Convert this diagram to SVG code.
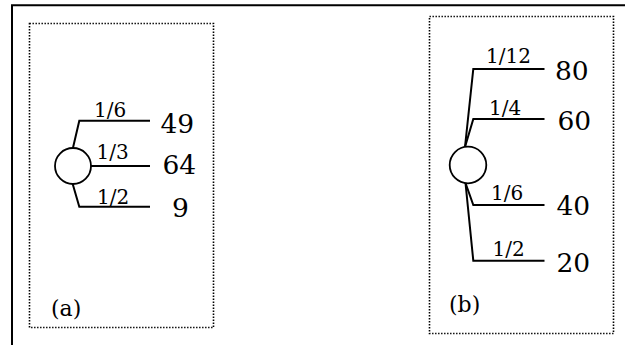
<svg xmlns="http://www.w3.org/2000/svg" width="625" height="345" viewBox="0 0 625 345">
  <style>
    .frame { fill: none; stroke: #000; stroke-width: 2; }
    .panel { fill: none; stroke: #000; stroke-width: 1.6; stroke-dasharray: 1.4 1.6; }
    .node { fill: #fff; stroke: #000; stroke-width: 1.8; }
    .edge { fill: none; stroke: #000; stroke-width: 2; stroke-linejoin: miter; }
    .t { font-family: "DejaVu Serif", "Liberation Serif", serif; fill: #000; }
  </style>

  <!-- outer frame: top and left rules only -->
  <path class="frame" d="M12,345 V5.3 H625"/>

  <!-- panel (a) -->
  <rect class="panel" x="29.5" y="23.5" width="184" height="304"/>
  <!-- panel (b) -->
  <rect class="panel" x="429.5" y="16.5" width="184" height="317"/>

  <g id="connectors">
    <!-- tree (a) -->
    <path class="edge" d="M72.7,149 L79.3,120.7 H150"/>
    <path class="edge" d="M91,166 H150"/>
    <path class="edge" d="M72.7,184 L79.3,206.7 H150"/>
    <!-- tree (b) -->
    <path class="edge" d="M465,147 L473.3,69 H544.5"/>
    <path class="edge" d="M465,147 L473.3,119 H544.5"/>
    <path class="edge" d="M465.5,183 L473.3,205 H544.5"/>
    <path class="edge" d="M465.5,183 L473.3,260.7 H544.5"/>
  </g>

  <g id="chance-a">
    <circle class="node" cx="73" cy="166" r="18"/>
  </g>
  <g id="chance-b">
    <circle class="node" cx="468" cy="165" r="18.3"/>
  </g>

  <g id="labels-a" class="t">
    <text font-size="20" x="94" y="116.5">1/6</text>
    <text font-size="20" x="96.5" y="159">1/3</text>
    <text font-size="20" x="97" y="204">1/2</text>
    <text font-size="26.5" x="160.5" y="132.5">49</text>
    <text font-size="26.5" x="162.5" y="174">64</text>
    <text font-size="26.5" x="172" y="216.5">9</text>
    <text font-size="22" x="51" y="315.5">(a)</text>
  </g>

  <g id="labels-b" class="t">
    <text font-size="20" x="486" y="63">1/12</text>
    <text font-size="20" x="489" y="115">1/4</text>
    <text font-size="20" x="491" y="200">1/6</text>
    <text font-size="20" x="492.5" y="256">1/2</text>
    <text font-size="26.5" x="555" y="80">80</text>
    <text font-size="26.5" x="557.5" y="130">60</text>
    <text font-size="26.5" x="556.5" y="215">40</text>
    <text font-size="26.5" x="556.5" y="271.5">20</text>
    <text font-size="22" x="449" y="312">(b)</text>
  </g>
</svg>
